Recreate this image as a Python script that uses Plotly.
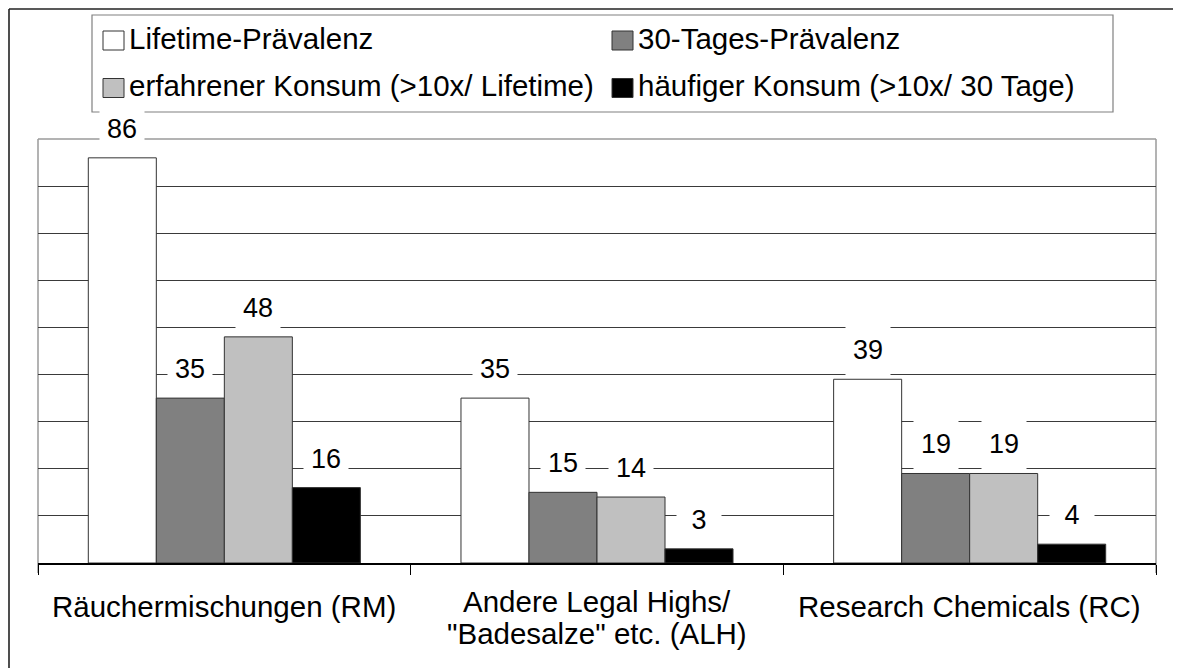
import plotly.graph_objects as go

# ---------------- data ----------------
categories = [
    "Räuchermischungen (RM)",
    "Andere Legal Highs/<br>\"Badesalze\" etc. (ALH)",
    "Research Chemicals (RC)",
]
series_names = [
    "Lifetime-Prävalenz",
    "30-Tages-Prävalenz",
    "erfahrener Konsum (>10x/ Lifetime)",
    "häufiger Konsum (>10x/ 30 Tage)",
]
lifetime = [86, 35, 39]
tage30 = [35, 15, 19]
erfahren = [48, 14, 19]
haeufig = [16, 3, 4]
series_values = [lifetime, tage30, erfahren, haeufig]
colors = ["#ffffff", "#808080", "#c0c0c0", "#000000"]

# ---------------- layout geometry ----------------
# the page body has an 8px margin, so the figure is drawn 8px in from the window edge
OFF = 8
W, H = 1181 - OFF, 668 - OFF
ML = 38 - OFF
MT = 139 - OFF
MB = H - (563 - OFF)
MR = W - (1156 - OFF)
PW, PH = W - ML - MR, H - MT - MB
BARGAP = 0.27
FONT = "Liberation Sans, Arial, Helvetica, sans-serif"


def px2x(px):
    """window pixel x -> paper x"""
    return (px - OFF - ML) / PW


def py2y(py):
    """window pixel y -> paper y"""
    return (H - MB - (py - OFF)) / PH


fig = go.Figure()
for name, vals, col in zip(series_names, series_values, colors):
    fig.add_trace(go.Bar(
        x=categories, y=vals, name=name,
        marker=dict(color=col, line=dict(color="#333333", width=1)),
        showlegend=False, hoverinfo="x+y+name",
    ))

# data labels with white boxes (cover gridlines like the original)
bar_w = PW / len(categories) * (1 - BARGAP) / len(series_names)
annotations = []
for i, vals in enumerate(series_values):
    off = (i - (len(series_names) - 1) / 2) * bar_w
    for c, v in zip(categories, vals):
        annotations.append(dict(
            x=c, y=v, xref="x", yref="y", text=str(v), showarrow=False,
            xshift=off, yshift=29, yanchor="middle", xanchor="center",
            bgcolor="white", width=44, height=50, borderpad=0,
            font=dict(family=FONT, size=27, color="black"),
        ))

# category labels (tighter line spacing than plotly's default for the 2-line label)
for c in categories:
    lines = c.split("<br>")
    n = len(lines)
    for j, ln in enumerate(lines):
        cy = 606.5 - 5 * (n - 1) + 32 * j
        annotations.append(dict(
            x=c, y=py2y(cy), xref="x", yref="paper", text=ln, showarrow=False,
            xanchor="center", yanchor="middle", borderpad=0,
            font=dict(family=FONT, size=29.5, color="black"),
        ))

# manual legend (2 columns x 2 rows)
leg_cols = [103, 612]
leg_rows = [40.5, 88]
shapes = []
for k, (name, col) in enumerate(zip(series_names, colors)):
    cx = leg_cols[k % 2]
    cy = leg_rows[k // 2]
    shapes.append(dict(
        type="rect", xref="paper", yref="paper",
        x0=px2x(cx), x1=px2x(cx + 21), y0=py2y(cy - 9.5), y1=py2y(cy + 9.5),
        fillcolor=col, line=dict(color="#333333", width=1), layer="above",
    ))
    annotations.append(dict(
        x=px2x(cx + 25), y=py2y(cy - 2.5), xref="paper", yref="paper",
        text=name, showarrow=False, xanchor="left", yanchor="middle",
        borderpad=0, font=dict(family=FONT, size=29.5, color="black"),
    ))

# legend frame
shapes.append(dict(
    type="rect", xref="paper", yref="paper",
    x0=px2x(92), x1=px2x(1113), y0=py2y(112), y1=py2y(15),
    line=dict(color="#808080", width=1.2), fillcolor="rgba(0,0,0,0)", layer="above",
))

# plot-area border (left, top, right) in grey
for seg in [((0, py2y(573)), (0, 1)), ((0, 1), (1, 1)), ((1, 1), (1, py2y(573)))]:
    shapes.append(dict(
        type="line", xref="paper", yref="paper",
        x0=seg[0][0], y0=seg[0][1], x1=seg[1][0], y1=seg[1][1],
        line=dict(color="#9a9a9a", width=1.5), layer="below",
    ))

# outer chart frame (left and top edges visible)
shapes.append(dict(
    type="line", xref="paper", yref="paper",
    x0=px2x(9), x1=px2x(9), y0=py2y(9), y1=py2y(700),
    line=dict(color="#222222", width=1.6),
))
shapes.append(dict(
    type="line", xref="paper", yref="paper",
    x0=px2x(9), x1=px2x(1200), y0=py2y(9), y1=py2y(9),
    line=dict(color="#222222", width=1.6),
))

fig.update_layout(
    width=W, height=H,
    margin=dict(l=ML, r=MR, t=MT, b=MB, pad=0, autoexpand=False),
    paper_bgcolor="white", plot_bgcolor="white",
    barmode="group", bargap=BARGAP, bargroupgap=0,
    font=dict(family=FONT, size=29.5, color="black"),
    annotations=annotations, shapes=shapes,
    xaxis=dict(
        type="category", showgrid=False, showline=True, linecolor="black", linewidth=1.5,
        ticks="outside", tickson="boundaries", ticklen=10, tickcolor="black", tickwidth=1,
        showticklabels=False, zeroline=False, fixedrange=True, automargin=False,
    ),
    yaxis=dict(
        range=[0, 90], tickvals=list(range(10, 90, 10)), showticklabels=False,
        showgrid=True, gridcolor="#3a3a3a", gridwidth=1, zeroline=False,
        showline=False, ticks="", fixedrange=True, automargin=False,
    ),
)

fig.write_html("out.html")
